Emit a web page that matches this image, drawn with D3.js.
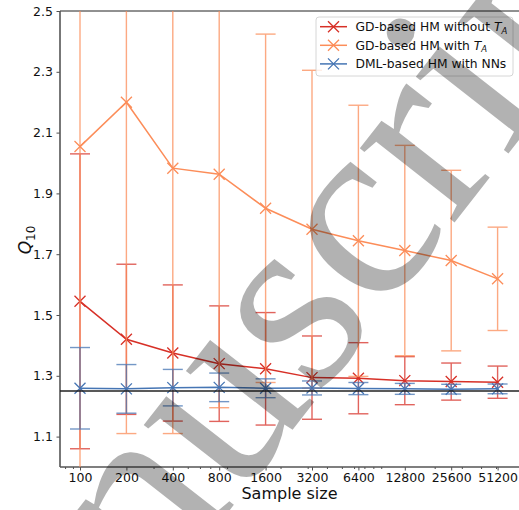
<!DOCTYPE html>
<html>
<head>
<meta charset="utf-8">
<script src="https://cdn.jsdelivr.net/npm/d3@7"></script>
<style>
  body { margin: 0; background: #fff; }
  svg { display: block; font-family: "DejaVu Sans", sans-serif; }
</style>
</head>
<body>
<div id="chart"></div>
<script>
// Data

const sampleSizes = [100, 200, 400, 800, 1600, 3200, 6400, 12800, 25600, 51200]

const gdNoTaMean = [1.545, 1.42, 1.375, 1.34, 1.323, 1.294, 1.292, 1.284, 1.281, 1.279]
const gdNoTaErr = [0.485, 0.247, 0.224, 0.19, 0.185, 0.137, 0.117, 0.079, 0.061, 0.053]

const gdTaMean = [2.054, 2.2, 1.983, 1.963, 1.851, 1.782, 1.744, 1.712, 1.679, 1.619]
const gdTaErr = [1.2, 1.09, 0.873, 0.768, 0.573, 0.523, 0.446, 0.346, 0.297, 0.17]

const dmlMean = [1.259, 1.257, 1.261, 1.262, 1.259, 1.26, 1.258, 1.257, 1.256, 1.257]
const dmlErr = [0.134, 0.08, 0.06, 0.047, 0.031, 0.023, 0.02, 0.018, 0.016, 0.016]

const trueValue = 1.25
const yTicks = [1.1, 1.3, 1.5, 1.7, 1.9, 2.1, 2.3, 2.5]
const minorTicks = [80, 90, 300, 500, 600, 700, 900, 2000, 3000, 4000, 5000, 6000, 7000, 8000, 9000,
  20000, 30000, 40000, 50000]

const series = [
  { label: 'GD-based HM without ', sub: true, mean: gdNoTaMean, err: gdNoTaErr, color: '#d73027' },
  { label: 'GD-based HM with ', sub: true, mean: gdTaMean, err: gdTaErr, color: '#fc8d59' },
  { label: 'DML-based HM with NNs', sub: false, mean: dmlMean, err: dmlErr, color: '#4575b4' },
]

// Layout

const W = 519
const H = 510
const plot = { left: 60, right: 522, top: 11, bottom: 467 }

const x = d3.scaleLog().base(2).domain([100, 51200]).range([80, 497.6])
const y = d3.scaleLinear().domain([1.0, 2.5]).range([plot.bottom, plot.top])

const svg = d3.select('#chart').append('svg').attr('width', W).attr('height', H)

svg.append('defs').append('clipPath').attr('id', 'clip')
  .append('rect')
  .attr('x', plot.left).attr('y', plot.top)
  .attr('width', plot.right - plot.left).attr('height', plot.bottom - plot.top)

// Axes

const xAxis = svg.append('g')
  .attr('transform', `translate(0,${plot.bottom})`)
  .call(d3.axisBottom(x).tickValues(sampleSizes).tickFormat(d3.format('d')).tickSize(3.5).tickPadding(3))
xAxis.select('.domain').remove()

svg.append('g')
  .attr('transform', `translate(0,${plot.bottom})`)
  .call(d3.axisBottom(x).tickValues(minorTicks).tickFormat('').tickSize(2))
  .select('.domain').remove()

const yAxis = svg.append('g')
  .attr('transform', `translate(${plot.left},0)`)
  .call(d3.axisLeft(y).tickValues(yTicks).tickFormat(d3.format('.1f')).tickSize(3.5).tickPadding(3.5))
yAxis.select('.domain').remove()

svg.selectAll('.tick line').attr('stroke', '#222').attr('stroke-width', 0.8)
svg.selectAll('.tick text').attr('font-size', 12.5).attr('fill', '#111')
  .attr('font-family', '"DejaVu Sans", sans-serif')

// Spines
svg.append('line').attr('x1', plot.left).attr('x2', W).attr('y1', plot.top).attr('y2', plot.top)
  .attr('stroke', '#222').attr('stroke-width', 1)
svg.append('line').attr('x1', plot.left).attr('x2', W).attr('y1', plot.bottom).attr('y2', plot.bottom)
  .attr('stroke', '#555').attr('stroke-width', 1.5)
svg.append('line').attr('x1', plot.left).attr('x2', plot.left).attr('y1', plot.top).attr('y2', plot.bottom)
  .attr('stroke', '#555').attr('stroke-width', 1.6)

// Axis labels
svg.append('text').attr('x', 289.5).attr('y', 499).attr('text-anchor', 'middle')
  .attr('font-size', 16).attr('fill', '#111').text('Sample size')

const yl = svg.append('text').attr('transform', 'translate(31,240) rotate(-90)')
  .attr('text-anchor', 'middle').attr('font-size', 17).attr('fill', '#111')
yl.append('tspan').attr('font-style', 'italic').text('Q')
yl.append('tspan').attr('font-size', 12).attr('dy', 4).text('10')

// Series

const plotArea = svg.append('g').attr('clip-path', 'url(#clip)')
const line = d3.line().x((d) => x(d.n)).y((d) => y(d.m))
const capW = 10
const mk = 5.5

series.forEach((s) => {
  const pts = sampleSizes.map((n, i) => ({ n, m: s.mean[i], e: s.err[i] }))
  const g = plotArea.append('g')

  const bars = g.append('g').attr('stroke', s.color).attr('stroke-width', 1.4).attr('opacity', 0.75)
  bars.selectAll('line.v').data(pts).join('line')
    .attr('x1', (d) => x(d.n)).attr('x2', (d) => x(d.n))
    .attr('y1', (d) => y(d.m - d.e)).attr('y2', (d) => y(d.m + d.e))
  bars.selectAll('line.lo').data(pts).join('line').attr('class', 'lo')
    .attr('x1', (d) => x(d.n) - capW).attr('x2', (d) => x(d.n) + capW)
    .attr('y1', (d) => y(d.m - d.e)).attr('y2', (d) => y(d.m - d.e))
  bars.selectAll('line.hi').data(pts).join('line').attr('class', 'hi')
    .attr('x1', (d) => x(d.n) - capW).attr('x2', (d) => x(d.n) + capW)
    .attr('y1', (d) => y(d.m + d.e)).attr('y2', (d) => y(d.m + d.e))

  g.append('path').datum(pts).attr('d', line)
    .attr('fill', 'none').attr('stroke', s.color).attr('stroke-width', 1.5)

  g.selectAll('path.mk').data(pts).join('path').attr('class', 'mk')
    .attr('d', (d) => {
      const cx = x(d.n)
      const cy = y(d.m)
      return `M${cx - mk},${cy - mk}L${cx + mk},${cy + mk}M${cx - mk},${cy + mk}L${cx + mk},${cy - mk}`
    })
    .attr('stroke', s.color).attr('stroke-width', 1.3).attr('fill', 'none')
})

plotArea.append('line')
  .attr('x1', plot.left).attr('x2', plot.right)
  .attr('y1', y(trueValue)).attr('y2', y(trueValue))
  .attr('stroke', '#222').attr('stroke-width', 1.5)

// Legend

const legend = svg.append('g').attr('transform', 'translate(316,17)')
legend.append('rect').attr('width', 197).attr('height', 59).attr('rx', 3)
  .attr('fill', '#fff').attr('fill-opacity', 0.8).attr('stroke', '#ccc').attr('stroke-width', 0.8)

series.forEach((s, i) => {
  const row = legend.append('g').attr('transform', `translate(0,${9.7 + i * 18.6})`)
  row.append('line').attr('x1', 4).attr('x2', 31).attr('stroke', s.color).attr('stroke-width', 1.5)
  row.append('path').attr('d', `M${17.5 - mk},${-mk}L${17.5 + mk},${mk}M${17.5 - mk},${mk}L${17.5 + mk},${-mk}`)
    .attr('stroke', s.color).attr('stroke-width', 1.3)
  const t = row.append('text').attr('x', 39.5).attr('y', 4.5).attr('font-size', 12.3).attr('fill', '#111')
  t.append('tspan').text(s.label)
  if (s.sub) {
    t.append('tspan').attr('font-style', 'italic').text('T')
    t.append('tspan').attr('font-style', 'italic').attr('font-size', 8.5).attr('dy', 2.5).text('A')
  }
})

// Watermark

svg.append('text')
  .attr('transform', 'translate(308,410) rotate(-52)')
  .attr('text-anchor', 'middle')
  .attr('font-family', '"Liberation Serif", "DejaVu Serif", serif')
  .attr('font-size', 262)
  .attr('fill', '#000').attr('fill-opacity', 0.3)
  .text('Manuscript')
</script>
</body>
</html>
